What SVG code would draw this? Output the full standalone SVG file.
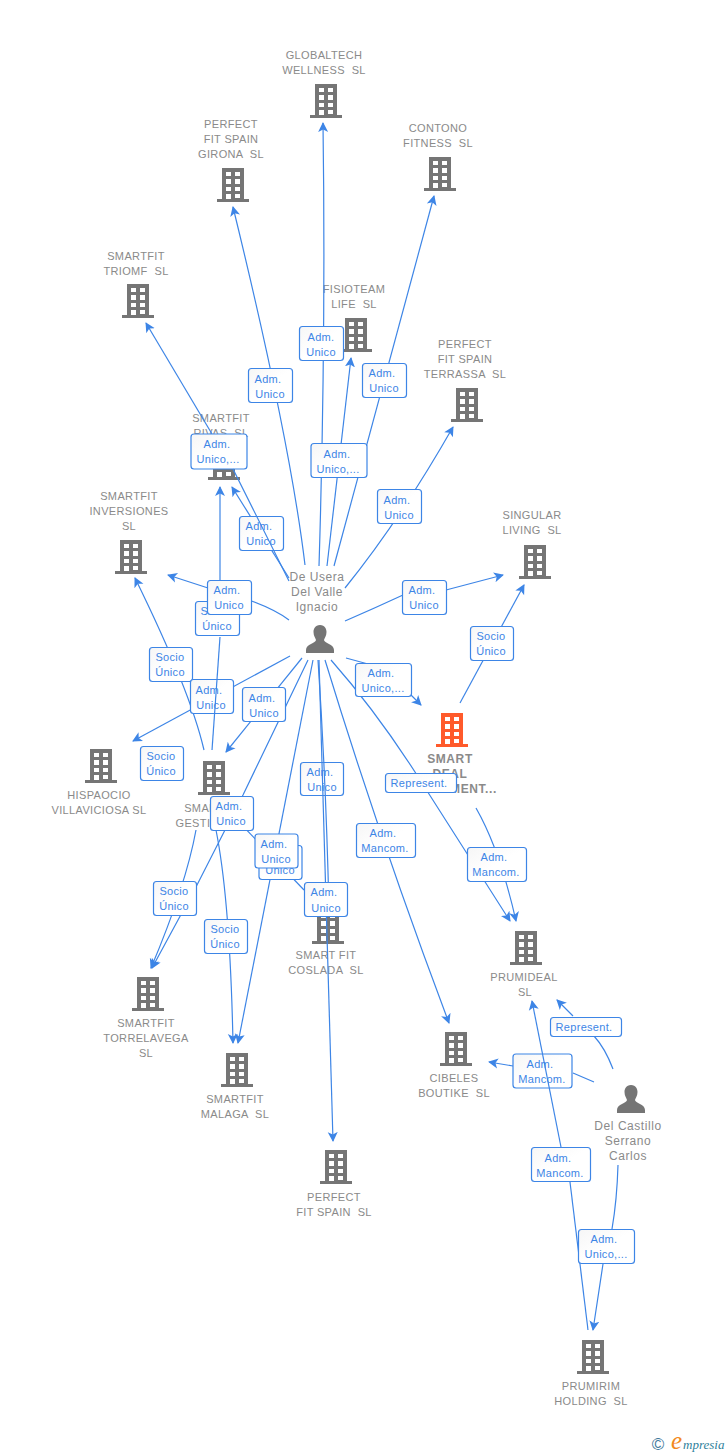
<svg xmlns="http://www.w3.org/2000/svg" width="728" height="1455" viewBox="0 0 728 1455">
<style>
.t{font-family:"Liberation Sans",Arial,sans-serif;font-size:11px;fill:#8a8a8a;text-anchor:middle;letter-spacing:.35px;white-space:pre}
.b{font-weight:bold;font-size:12px;letter-spacing:.6px}
.p{font-family:"Liberation Sans",Arial,sans-serif;font-size:12px;fill:#8a8a8a;text-anchor:middle;letter-spacing:.55px}
.e{fill:none;stroke:#3d85e6;stroke-width:1.2}
.a{marker-end:url(#arr)}
.l rect{fill:url(#lg);stroke:#3d85e6;stroke-width:1.2}
.l text{font-family:"Liberation Sans",Arial,sans-serif;font-size:11px;fill:#3d85e6;text-anchor:middle;letter-spacing:.3px}
</style>
<defs>
<linearGradient id="lg" x1="0" y1="0" x2="1" y2="1"><stop offset="0" stop-color="#f6f6f6"/><stop offset=".5" stop-color="#fff"/><stop offset="1" stop-color="#fff"/></linearGradient>
<marker id="arr" markerUnits="userSpaceOnUse" markerWidth="14" markerHeight="14" refX="9" refY="6" orient="auto"><path d="M0 1 L10 6 L0 11 L2.500 6Z" fill="#3d85e6"/></marker>
<g id="bld"><path fill-rule="evenodd" d="M-11 -17H11V14H16V17H-16V14H-11ZM-7 -13V-9H-2V-13ZM2 -13V-9H7V-13ZM-7 -6V-1H-2V-6ZM2 -6V-1H7V-6ZM-7 2V6H-2V2ZM2 2V6H7V2ZM-7 9V14H-2V9ZM2 9V13H7V9Z"/></g>
<g id="per"><path d="M0 -14C5 -14 6.500 -10 6.500 -7C6.500 -3 4.500 -1 4 1C4 4 14 5 14 11V14H-14V11C-14 5 -4 4 -4 1C-4.500 -1 -6.500 -3 -6.500 -7C-6.500 -10 -5 -14 0 -14Z"/></g>
</defs>

<g id="n-globaltech"><use href="#bld" x="326" y="101" fill="#757575"/><text class="t" x="324" y="59">GLOBALTECH</text><text class="t" x="324" y="74">WELLNESS  SL</text></g>
<g id="n-girona"><use href="#bld" x="233" y="185" fill="#757575"/><text class="t" x="231" y="128">PERFECT</text><text class="t" x="231" y="143">FIT SPAIN</text><text class="t" x="231" y="158">GIRONA  SL</text></g>
<g id="n-contono"><use href="#bld" x="440" y="174" fill="#757575"/><text class="t" x="438" y="132">CONTONO</text><text class="t" x="438" y="147">FITNESS  SL</text></g>
<g id="n-triomf"><use href="#bld" x="138" y="301" fill="#757575"/><text class="t" x="136" y="260">SMARTFIT</text><text class="t" x="136" y="275">TRIOMF  SL</text></g>
<g id="n-fisioteam"><use href="#bld" x="356" y="335" fill="#757575"/><text class="t" x="354" y="293">FISIOTEAM</text><text class="t" x="354" y="308">LIFE  SL</text></g>
<g id="n-terrassa"><use href="#bld" x="467" y="405" fill="#757575"/><text class="t" x="465" y="348">PERFECT</text><text class="t" x="465" y="363">FIT SPAIN</text><text class="t" x="465" y="378">TERRASSA  SL</text></g>
<g id="n-rivas"><use href="#bld" x="224" y="463" fill="#757575"/><text class="t" x="221" y="422">SMARTFIT</text><text class="t" x="221" y="437">RIVAS  SL</text></g>
<g id="n-inversiones"><use href="#bld" x="131" y="557" fill="#757575"/><text class="t" x="129" y="500">SMARTFIT</text><text class="t" x="129" y="515">INVERSIONES</text><text class="t" x="129" y="530">SL</text></g>
<g id="n-singular"><use href="#bld" x="535" y="562" fill="#757575"/><text class="t" x="532" y="519">SINGULAR</text><text class="t" x="532" y="534">LIVING  SL</text></g>
<g id="n-smartdeal"><use href="#bld" x="452" y="730" fill="#ff5a2b"/><text class="t b" x="450" y="763">SMART</text><text class="t b" x="450" y="778">DEAL</text><text class="t b" x="450" y="793">INVESTMENT...</text></g>
<g id="n-hispaocio"><use href="#bld" x="101" y="766" fill="#757575"/><text class="t" x="99" y="799">HISPAOCIO</text><text class="t" x="99" y="814">VILLAVICIOSA SL</text></g>
<g id="n-gestion"><use href="#bld" x="214" y="778" fill="#757575"/><text class="t" x="213" y="812">SMARTFIT</text><text class="t" x="212" y="827">GESTION  SL</text></g>
<g id="n-coslada"><use href="#bld" x="328" y="927" fill="#757575"/><text class="t" x="326" y="959">SMART FIT</text><text class="t" x="326" y="974">COSLADA  SL</text></g>
<g id="n-prumideal"><use href="#bld" x="526" y="948" fill="#757575"/><text class="t" x="524" y="981">PRUMIDEAL</text><text class="t" x="525" y="996">SL</text></g>
<g id="n-torrelavega"><use href="#bld" x="148" y="994" fill="#757575"/><text class="t" x="146" y="1027">SMARTFIT</text><text class="t" x="146" y="1042">TORRELAVEGA</text><text class="t" x="146" y="1057">SL</text></g>
<g id="n-malaga"><use href="#bld" x="237" y="1070" fill="#757575"/><text class="t" x="235" y="1103">SMARTFIT</text><text class="t" x="235" y="1118">MALAGA  SL</text></g>
<g id="n-cibeles"><use href="#bld" x="456" y="1049" fill="#757575"/><text class="t" x="454" y="1082">CIBELES</text><text class="t" x="454" y="1097">BOUTIKE  SL</text></g>
<g id="n-perfectfit"><use href="#bld" x="336" y="1167" fill="#757575"/><text class="t" x="334" y="1201">PERFECT</text><text class="t" x="334" y="1216">FIT SPAIN  SL</text></g>
<g id="n-prumirim"><use href="#bld" x="593" y="1357" fill="#757575"/><text class="t" x="591" y="1390">PRUMIRIM</text><text class="t" x="591" y="1405">HOLDING  SL</text></g>
<g id="n-deusera"><use href="#per" x="320" y="639" fill="#757575"/><text class="p" x="317" y="581">De Usera</text><text class="p" x="317" y="596">Del Valle</text><text class="p" x="317" y="611">Ignacio</text></g>
<g id="n-delcastillo"><use href="#per" x="631" y="1099" fill="#757575"/><text class="p" x="628" y="1130">Del Castillo</text><text class="p" x="628" y="1145">Serrano</text><text class="p" x="628" y="1160">Carlos</text></g>

<g id="connectors">
<path class="e a" d="M319 566Q326 340 323 123"/>
<path class="e a" d="M305 565Q290 440 233 207"/>
<path class="e a" d="M334 566L434 196"/>
<path class="e a" d="M327 566L351 358"/>
<path class="e a" d="M345 588Q400 520 453 427"/>
<path class="e a" d="M289 620Q265 602 208 588L168 575"/>
<path class="e a" d="M204 750Q190 690 135 578"/>
<path class="e a" d="M302 658L226 752"/>
<path class="e a" d="M308 660L243 795L225 830L197 885L152 968"/>
<path class="e a" d="M196 830Q186 885 151 968"/>
<path class="e a" d="M216 830Q230 900 233 1043"/>
<path class="e" d="M240 823L304 890"/>
<path class="e a" d="M325 660Q380 840 449 1023"/>
<path class="e a" d="M331 660Q375 710 415 772L510 921"/>
<path class="e a" d="M476 808Q500 850 516 921"/>
<path class="e a" d="M346 658L368 664M408 692L421 705"/>
<path class="e a" d="M345 621Q375 608 403 595M446 590L503 575"/>
<path class="e a" d="M460 703L524 585"/>
<path class="e a" d="M613 1069Q605 1048 594 1036M573 1016L557 1000"/>
<path class="e a" d="M594 1082L573 1073M513 1066L489 1062"/>
<path class="e a" d="M618 1165Q617 1200 612 1229M603 1264L593 1330"/>
<path class="e" d="M588 1330L570 1182"/>
<path class="e a" d="M289 578L232 487"/>
<path class="e a" d="M290 656L133 741"/>
<path class="e a" d="M313 660L238 1043"/>
<path class="e a" d="M212 434L146 323"/>
<path class="e a" d="M220 585L220 487"/>
</g>

<g id="labels-a">
<g class="l"><rect x="299.500" y="326.500" width="44" height="34" rx="3"/><text x="321" y="341">Adm.</text><text x="321" y="356">Unico</text></g>
<g class="l"><rect x="248.500" y="368.500" width="44" height="34" rx="3"/><text x="268" y="383">Adm.</text><text x="270" y="398">Unico</text></g>
<g class="l"><rect x="362.500" y="363.500" width="44" height="34" rx="3"/><text x="382" y="377">Adm.</text><text x="384" y="392">Unico</text></g>
<g class="l"><rect x="191" y="434" width="56" height="35" rx="3"/><text x="217" y="448">Adm.</text><text x="218" y="463">Unico,...</text></g>
<g class="l"><rect x="311" y="443.500" width="56" height="34" rx="3"/><text x="337" y="458">Adm.</text><text x="338" y="473">Unico,...</text></g>
<g class="l"><rect x="377.500" y="489.500" width="44" height="34" rx="3"/><text x="397" y="504">Adm.</text><text x="399" y="519">Unico</text></g>
<g class="l"><rect x="239.500" y="516.500" width="44" height="34" rx="3"/><text x="259" y="530">Adm.</text><text x="261" y="545">Unico</text></g>
<g class="l"><rect x="402.500" y="580.500" width="44" height="34" rx="3"/><text x="422" y="594">Adm.</text><text x="424" y="609">Unico</text></g>
<g class="l"><rect x="195.500" y="601.500" width="44" height="34" rx="3"/><text x="215" y="615">Socio</text><text x="217" y="630">Único</text></g>
<g class="l"><rect x="207.500" y="580.500" width="44" height="34" rx="3"/><text x="227" y="594">Adm.</text><text x="229" y="609">Unico</text></g>
<g class="l"><rect x="470.500" y="626.500" width="43" height="34" rx="3"/><text x="491" y="640">Socio</text><text x="491" y="655">Único</text></g>
<g class="l"><rect x="149.500" y="647.500" width="43" height="34" rx="3"/><text x="170" y="661">Socio</text><text x="170" y="676">Único</text></g>
<g class="l"><rect x="190.500" y="679.500" width="43" height="34" rx="3"/><text x="209" y="694">Adm.</text><text x="211" y="709">Unico</text></g>
<g class="l"><rect x="355.500" y="663.500" width="56" height="33" rx="3"/><text x="381" y="677">Adm.</text><text x="383" y="692">Unico,...</text></g>
<g class="l"><rect x="242.500" y="687.500" width="43" height="34" rx="3"/><text x="262" y="702">Adm.</text><text x="264" y="717">Unico</text></g>
<g class="l"><rect x="140.500" y="746.500" width="43" height="34" rx="3"/><text x="161" y="760">Socio</text><text x="161" y="775">Único</text></g>
<g class="l"><rect x="300.500" y="762.500" width="43" height="33" rx="3"/><text x="320" y="776">Adm.</text><text x="322" y="791">Unico</text></g>
<g class="l"><rect x="385.500" y="773.500" width="71" height="19" rx="3"/><text x="419" y="787">Represent.</text></g>
<g class="l"><rect x="210.500" y="796.500" width="43" height="34" rx="3"/><text x="229" y="810">Adm.</text><text x="231" y="825">Unico</text></g>
<g class="l"><rect x="356.500" y="823.500" width="59" height="34" rx="3"/><text x="383" y="837">Adm.</text><text x="385" y="852">Mancom.</text></g>
<g class="l"><rect x="467.500" y="847.500" width="59" height="34" rx="3"/><text x="494" y="861">Adm.</text><text x="496" y="876">Mancom.</text></g>
<g class="l"><rect x="259" y="845.500" width="43" height="34" rx="3"/><text x="279" y="859">Adm.</text><text x="280" y="874">Unico</text></g>
<g class="l"><rect x="255" y="834" width="43" height="34" rx="3"/><text x="274" y="848">Adm.</text><text x="276" y="863">Unico</text></g>
<g class="l"><rect x="153.500" y="881.500" width="43" height="34" rx="3"/><text x="174" y="895">Socio</text><text x="174" y="910">Único</text></g>
<g class="l"><rect x="204.500" y="919.500" width="43" height="34" rx="3"/><text x="225" y="933">Socio</text><text x="225" y="948">Único</text></g>
<g class="l"><rect x="550.500" y="1017.500" width="71" height="19" rx="3"/><text x="584" y="1031">Represent.</text></g>
<g class="l"><rect x="513" y="1054" width="59" height="34" rx="3"/><text x="540" y="1068">Adm.</text><text x="542" y="1083">Mancom.</text></g>
<g class="l"><rect x="531.500" y="1147.500" width="59" height="34" rx="3"/><text x="558" y="1162">Adm.</text><text x="560" y="1177">Mancom.</text></g>
<g class="l"><rect x="578.500" y="1229.500" width="56" height="34" rx="3"/><text x="604" y="1243">Adm.</text><text x="606" y="1258">Unico,...</text></g>
</g>

<g id="connectors-over">
<path class="e" d="M233 469L289 581"/>
<path class="e" d="M220 637L212 750"/>
<path class="e a" d="M318 660Q326 780 329 910"/>
<path class="e a" d="M319 660L333 1141"/>
<path class="e a" d="M561 1147L532 1001"/>
</g>

<g id="label-top">
<g class="l"><rect x="304.500" y="882.500" width="43" height="34" rx="3"/><text x="324" y="896">Adm.</text><text x="326" y="912">Unico</text></g>
</g>

<g id="logo">
<text x="658" y="1450" font-family="'Liberation Sans',sans-serif" font-size="17" fill="#3f7a9c" text-anchor="middle">©</text>
<text x="671" y="1449" font-family="'Liberation Serif',serif" font-style="italic" font-size="25" fill="#f28a1e">e</text>
<text x="683" y="1449" font-family="'Liberation Serif',serif" font-style="italic" font-size="13" fill="#2f7f9c">mpresia</text>
</g>
</svg>
